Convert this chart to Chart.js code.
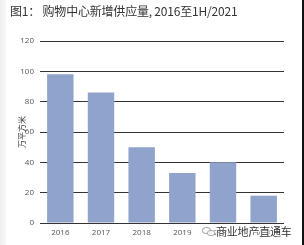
<!DOCTYPE html>
<html>
<head>
<meta charset="utf-8">
<script src="https://cdn.jsdelivr.net/npm/chart.js@4.4.1/dist/chart.umd.min.js"></script>
<style>
  html, body { margin: 0; padding: 0; background: #ffffff; }
  #wrap { position: relative; width: 304px; height: 245px; overflow: hidden; background: #fff; }
  #leftband { position: absolute; left: 0; top: 0; width: 6px; height: 245px; background: linear-gradient(to right, #efefef, #f7f7f7); }
  #rightband { position: absolute; right: 0; top: 0; width: 2px; height: 245px; background: #111; }
  #title { position: absolute; left: 10px; top: 2px; font-family: "Noto Sans CJK SC", "Noto Sans", sans-serif; font-size: 12px; color: #333; white-space: nowrap; letter-spacing: -0.2px; }
  #c { position: absolute; left: 0; top: 0; }
  #wm { position: absolute; left: 216px; top: 223px; font-family: "Noto Sans CJK SC", sans-serif; font-size: 11px; color: #333;
        text-shadow: 0 0 2px #fff, 0 0 2px #fff, 0 0 2px #fff, 1px 1px 1px #fff, -1px -1px 1px #fff; white-space: nowrap; letter-spacing: -0.2px; }
  .bub { position: absolute; border: 1px solid #aaa; border-radius: 50%; background: rgba(255,255,255,0.8); }
</style>
</head>
<body>
<div id="wrap">
  <div id="leftband"></div>
  <canvas id="c" width="304" height="245"></canvas>
  <div id="title">图1： 购物中心新增供应量, 2016至1H/2021</div>
  <div class="bub" style="left:202px;top:227px;width:7px;height:5px;"></div>
  <div class="bub" style="left:207px;top:230px;width:6px;height:4px;"></div>
  <div id="wm">商业地产直通车</div>
  <div id="rightband"></div>
</div>
<script>
const categories = ["2016", "2017", "2018", "2019", "2020", "1H/2021"];
const supplyValues = [98, 86, 50, 33, 40, 18];
const yTicks = [0, 20, 40, 60, 80, 100, 120];
const yAxisTitle = "万平方米";

const ctx = document.getElementById('c').getContext('2d');
new Chart(ctx, {
  type: 'bar',
  data: {
    labels: categories,
    datasets: [{
      data: supplyValues,
      backgroundColor: '#8fa3cd',
      borderWidth: 0,
      barPercentage: 0.65,
      categoryPercentage: 1.0
    }]
  },
  options: {
    responsive: false,
    animation: false,
    devicePixelRatio: 1,
    layout: { padding: { top: 41, right: 20, left: 17, bottom: 0 } },
    plugins: { legend: { display: false }, tooltip: { enabled: false }, title: { display: false } },
    scales: {
      x: {
        grid: { display: false, drawTicks: false },
        border: { display: false },
        ticks: { color: '#555', font: { family: 'Open Sans', size: 8 }, padding: 5, maxRotation: 0, autoSkip: false },
        afterFit: (s) => { s.height = 22; }
      },
      y: {
        min: 0, max: 120,
        afterBuildTicks: (s) => { s.ticks = yTicks.map(v => ({ value: v })); },
        grid: { color: '#333', lineWidth: 1, drawTicks: false },
        border: { display: false },
        ticks: { color: '#555', font: { family: 'Open Sans', size: 8 }, padding: 6 },
        title: { display: true, text: yAxisTitle, color: '#333', font: { family: 'Noto Sans CJK SC', size: 8 }, padding: 0 },
        afterFit: (s) => { s.width = 23; }
      }
    }
  }
});
</script>
</body>
</html>
